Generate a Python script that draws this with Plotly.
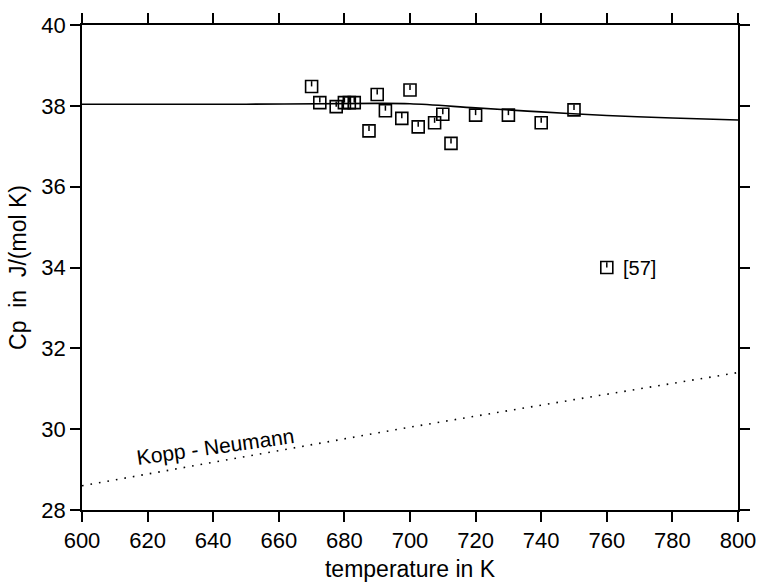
import plotly.graph_objects as go

# measured data points (temperature in K, Cp in J/(mol K))
temp_data = [670, 672.5, 677.5, 680, 681.5, 683, 687.5, 690, 692.5, 697.5,
             700, 702.5, 707.5, 710, 712.5, 720, 730, 740, 750]
cp_data = [38.48, 38.08, 37.98, 38.08, 38.08, 38.08, 37.38, 38.28, 37.88, 37.69,
           38.39, 37.48, 37.58, 37.79, 37.07, 37.77, 37.77, 37.58, 37.90]

# reference [57] point
temp_ref = [760]
cp_ref = [34.0]

# fitted curve
temp_fit = [600, 650, 690, 700, 720, 740, 760, 780, 800]
cp_fit = [38.04, 38.04, 38.06, 38.05, 37.95, 37.85, 37.76, 37.70, 37.65]

# Kopp-Neumann estimate
temp_kn = [600, 650, 700, 750, 800]
cp_kn = [28.60, 29.33, 30.05, 30.73, 31.40]

FONT = "Liberation Sans, Arial, Helvetica, sans-serif"

fig = go.Figure()

fig.add_trace(go.Scatter(
    x=temp_fit, y=cp_fit, mode="lines",
    line=dict(color="black", width=1.6), line_shape="spline",
    showlegend=False, hoverinfo="skip"))

fig.add_trace(go.Scatter(
    x=temp_kn, y=cp_kn, mode="lines",
    line=dict(color="black", width=1.6, dash="1.6px,7px"),
    showlegend=False, hoverinfo="skip"))

err = dict(type="constant", value=0.13, valueminus=0, symmetric=False,
           width=0, thickness=1.5, color="black")

fig.add_trace(go.Scatter(
    x=temp_data + temp_ref, y=cp_data + cp_ref, mode="markers",
    marker=dict(symbol="square-open", size=12, color="black",
                line=dict(width=1.6, color="black")),
    error_y=err, showlegend=False))

fig.add_annotation(x=temp_ref[0], y=cp_ref[0], text="[57]", showarrow=False,
                   xanchor="left", yanchor="middle", xshift=14,
                   font=dict(family=FONT, size=20, color="black"))

fig.add_annotation(x=640.8, y=29.58, text="Kopp - Neumann", showarrow=False,
                   textangle=-8, xanchor="center", yanchor="middle",
                   font=dict(family=FONT, size=21, color="black"))

axis_common = dict(showline=True, linecolor="black", linewidth=1.5,
                   mirror="ticks", ticks="outside", ticklen=10, tickwidth=1.5,
                   tickcolor="black", showgrid=False, zeroline=False,
                   automargin=False,
                   tickfont=dict(family=FONT, size=22, color="black"))

fig.update_xaxes(range=[600, 800], dtick=20, tick0=600,
                 title=dict(text="temperature in K", standoff=10,
                            font=dict(family=FONT, size=23, color="black")),
                 **axis_common)
fig.update_yaxes(range=[28, 40], dtick=2, tick0=28,
                 title=dict(text="Cp\u00a0 in\u00a0 J/(mol K)", standoff=8,
                            font=dict(family=FONT, size=23, color="black")),
                 **axis_common)

fig.update_layout(width=759, height=582,
                  margin=dict(l=82, r=21, t=25, b=72),
                  paper_bgcolor="white", plot_bgcolor="white",
                  font=dict(family=FONT, color="black"))

fig.write_html("out.html",
               config={"displayModeBar": False},
               post_script="document.body.style.margin='0';"
                           "document.body.style.overflow='hidden';")
